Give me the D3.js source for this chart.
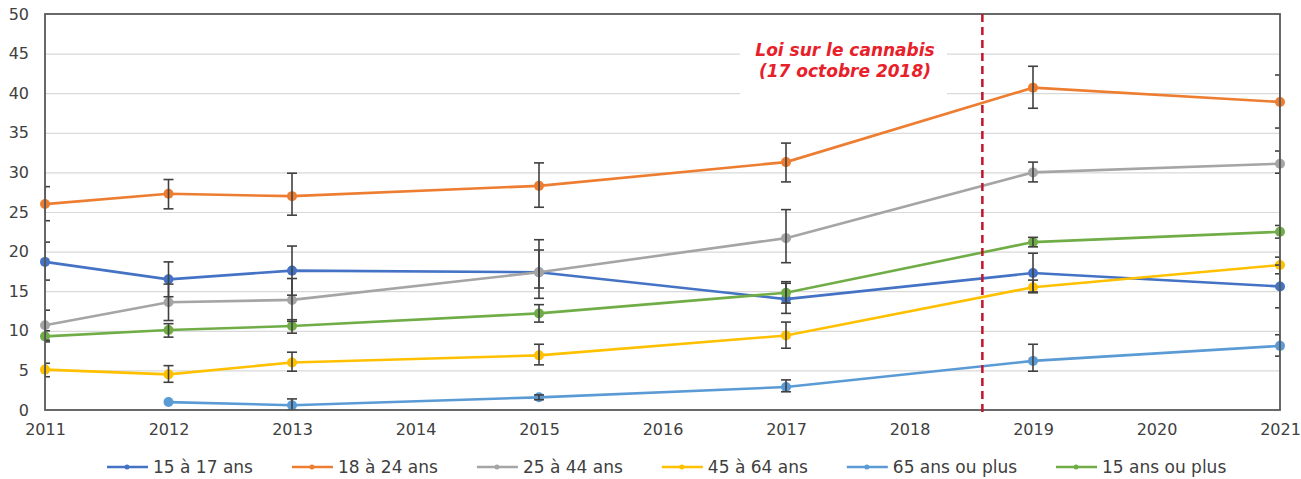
<!DOCTYPE html>
<html lang="fr">
<head>
<meta charset="utf-8">
<title>Cannabis</title>
<script src="https://cdn.jsdelivr.net/npm/d3@7"></script>
<style>
  body { margin: 0; background: #fff; }
  svg { display: block; font-family: "DejaVu Sans", Verdana, sans-serif; }
</style>
</head>
<body>
<script>
// years of the survey
var years = [2011, 2012, 2013, 2015, 2017, 2019, 2021];
var tickYears = [2011, 2012, 2013, 2014, 2015, 2016, 2017, 2018, 2019, 2020, 2021];
var yTicks = [0, 5, 10, 15, 20, 25, 30, 35, 40, 45, 50];

var names = ["15 à 17 ans", "18 à 24 ans", "25 à 44 ans", "45 à 64 ans", "65 ans ou plus", "15 ans ou plus"];
var colors = ["#4472c4", "#ed7d31", "#a5a5a5", "#ffc000", "#5b9bd5", "#70ad47"];

var v15_17  = [18.7, 16.5, 17.6, 17.4, 14.0, 17.3, 15.6];
var v18_24  = [26.0, 27.3, 27.0, 28.3, 31.3, 40.7, 38.9];
var v25_44  = [10.7, 13.6, 13.9, 17.4, 21.7, 30.0, 31.1];
var v45_64  = [5.1, 4.5, 6.0, 6.9, 9.4, 15.5, 18.3];
var v65plus = [null, 1.0, 0.6, 1.6, 2.9, 6.2, 8.1];
var v15plus = [9.3, 10.1, 10.6, 12.2, 14.8, 21.2, 22.5];

// error bars, low / high
var lo15_17  = [16.4, 14.3, 14.5, 15.4, 12.2, 14.8, 12.9];
var hi15_17  = [21.2, 18.7, 20.7, 20.2, 16.0, 19.8, 18.3];
var lo18_24  = [23.9, 25.4, 24.6, 25.6, 28.8, 38.1, 35.6];
var hi18_24  = [28.2, 29.1, 29.9, 31.2, 33.7, 43.4, 42.3];
var lo25_44  = [8.8, 11.3, 11.2, 14.1, 18.6, 28.8, 29.9];
var hi25_44  = [12.6, 15.9, 16.6, 21.5, 25.3, 31.3, 32.7];
var lo45_64  = [4.2, 3.5, 4.9, 5.7, 7.8, 14.9, 17.2];
var hi45_64  = [5.9, 5.6, 7.3, 8.3, 11.1, 16.4, 19.3];
var lo65plus = [null, null, 0.0, 1.3, 2.3, 4.9, 6.8];
var hi65plus = [null, null, 1.4, 1.9, 3.8, 8.3, 9.5];
var lo15plus = [8.6, 9.2, 9.7, 11.1, 13.5, 20.6, 21.7];
var hi15plus = [10.0, 10.9, 11.4, 13.3, 16.2, 21.8, 23.3];

var lawYear = 2018.59;
var lawText = ["Loi sur le cannabis", "(17 octobre 2018)"];

var values = [v15_17, v18_24, v25_44, v45_64, v65plus, v15plus];
var lows = [lo15_17, lo18_24, lo25_44, lo45_64, lo65plus, lo15plus];
var highs = [hi15_17, hi18_24, hi25_44, hi45_64, hi65plus, hi15plus];

var W = 1301, H = 479;
var pl = 45, pr = 1280, pt = 14, pb = 410;

var svg = d3.select("body").append("svg").attr("width", W).attr("height", H);

var x = d3.scaleLinear().domain([2011, 2021]).range([pl, pr]);
var y = d3.scaleLinear().domain([0, 50]).range([pb, pt]);

svg.append("clipPath").attr("id", "plot")
  .append("rect").attr("x", pl).attr("y", pt).attr("width", pr - pl).attr("height", pb - pt);

// grid
svg.append("g")
  .attr("transform", "translate(" + pl + ",0)")
  .call(d3.axisLeft(y).tickValues(yTicks.slice(1, -1)).tickSize(-(pr - pl)).tickFormat(""))
  .call(function (g) {
    g.select(".domain").remove();
    g.selectAll("line").attr("stroke", "#d9d9d9").attr("stroke-width", 1.2);
  });

// annotation box hides grid
svg.append("rect").attr("x", 740).attr("y", 34).attr("width", 207).attr("height", 68).attr("fill", "#fff");
svg.append("text")
  .attr("x", 845).attr("y", 56)
  .attr("text-anchor", "middle")
  .attr("fill", "#e8202a").attr("font-weight", "bold").attr("font-style", "italic")
  .attr("font-size", 17)
  .selectAll("tspan").data(lawText).enter().append("tspan")
  .attr("x", 845).attr("dy", function (d, i) { return i ? 21 : 0; })
  .text(function (d) { return d; });

// y labels
svg.append("g")
  .attr("transform", "translate(" + pl + ",0)")
  .call(d3.axisLeft(y).tickValues(yTicks).tickSize(0).tickPadding(16))
  .call(function (g) {
    g.select(".domain").remove();
    g.selectAll("text").attr("font-size", 16).attr("fill", "#404040")
      .attr("font-family", "DejaVu Sans, Verdana, sans-serif");
  });

// x labels
svg.append("g")
  .attr("transform", "translate(0," + pb + ")")
  .call(d3.axisBottom(x).tickValues(tickYears).tickFormat(d3.format("d")).tickSize(0).tickPadding(14))
  .call(function (g) {
    g.select(".domain").remove();
    g.selectAll("text").attr("font-size", 16).attr("fill", "#404040")
      .attr("font-family", "DejaVu Sans, Verdana, sans-serif");
  });

// series
var line = d3.line()
  .defined(function (d) { return d.v != null; })
  .x(function (d) { return x(d.year); })
  .y(function (d) { return y(d.v); });

var series = names.map(function (n, k) {
  return {
    name: n, color: colors[k],
    pts: years.map(function (yr, i) {
      return { year: yr, v: values[k][i], lo: lows[k][i], hi: highs[k][i] };
    })
  };
});

var gs = svg.append("g").selectAll("g").data(series).enter().append("g");

gs.append("path")
  .attr("d", function (d) { return line(d.pts); })
  .attr("fill", "none").attr("stroke", function (d) { return d.color; })
  .attr("stroke-width", 2.6);

gs.selectAll("circle")
  .data(function (d) { return d.pts.filter(function (p) { return p.v != null; }).map(function (p) { p.color = d.color; return p; }); })
  .enter().append("circle")
  .attr("cx", function (p) { return x(p.year); })
  .attr("cy", function (p) { return y(p.v); })
  .attr("r", 5)
  .attr("fill", function (p) { return p.color; });

// error bars
var eb = svg.append("g").attr("clip-path", "url(#plot)")
  .attr("stroke", "#404040").attr("stroke-width", 1.6);
series.forEach(function (s) {
  s.pts.forEach(function (p) {
    if (p.lo == null) return;
    var cx = x(p.year);
    eb.append("line").attr("x1", cx).attr("x2", cx).attr("y1", y(p.lo)).attr("y2", y(p.hi));
    eb.append("line").attr("x1", cx - 5).attr("x2", cx + 5).attr("y1", y(p.lo)).attr("y2", y(p.lo));
    eb.append("line").attr("x1", cx - 5).attr("x2", cx + 5).attr("y1", y(p.hi)).attr("y2", y(p.hi));
  });
});

// frame
svg.append("rect")
  .attr("x", pl).attr("y", pt).attr("width", pr - pl).attr("height", pb - pt)
  .attr("fill", "none").attr("stroke", "#595959").attr("stroke-width", 1.8);

// law line
svg.append("line")
  .attr("x1", x(lawYear)).attr("x2", x(lawYear))
  .attr("y1", pt).attr("y2", 416)
  .attr("stroke", "#c0152b").attr("stroke-width", 2.5)
  .attr("stroke-dasharray", "8,5");

// legend
var lg = svg.append("g").attr("font-size", 17).attr("fill", "#404040");
var lx = 107, ly = 467;
series.forEach(function (s) {
  var it = lg.append("g").attr("transform", "translate(" + lx + "," + ly + ")");
  it.append("line").attr("x1", 0).attr("x2", 41).attr("stroke", s.color).attr("stroke-width", 2.6);
  it.append("circle").attr("cx", 20).attr("r", 2.5).attr("fill", s.color);
  var t = it.append("text").attr("x", 46).attr("dy", "0.35em").text(s.name);
  lx += 46 + t.node().getComputedTextLength() + 39;
});
</script>
</body>
</html>
